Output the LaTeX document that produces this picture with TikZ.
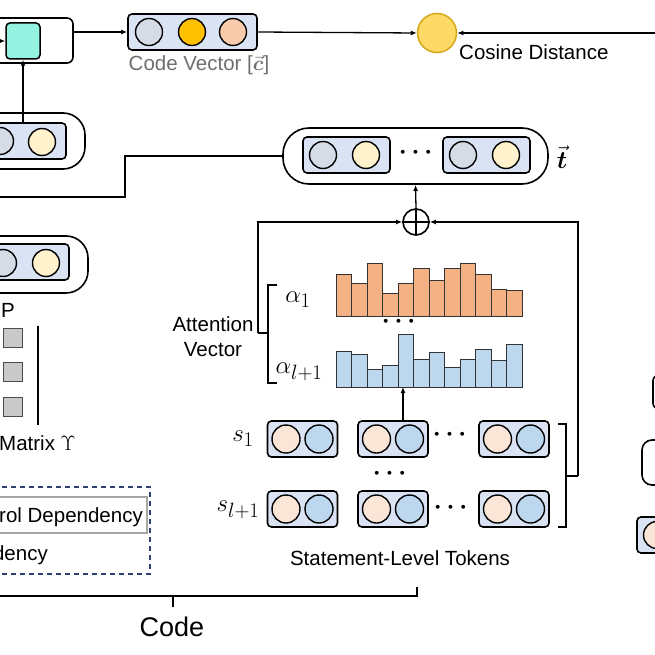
\documentclass[tikz,border=0pt]{standalone}
\usepackage{amsmath}
\usepackage{fontspec}
\setmainfont{Liberation Sans}
\usetikzlibrary{arrows.meta}

\definecolor{boxblue}{HTML}{DAE3F3}
\definecolor{graydot}{HTML}{D6DCE5}
\definecolor{golddot}{HTML}{FFC000}
\definecolor{peachdot}{HTML}{F8CBAD}
\definecolor{yellowdot}{HTML}{FFF2CC}
\definecolor{tokpeach}{HTML}{FBE5D6}
\definecolor{tokblue}{HTML}{BDD7EE}
\definecolor{barorange}{HTML}{F4B183}
\definecolor{barblue}{HTML}{BDD7EE}
\definecolor{tealc}{HTML}{93F2E0}
\definecolor{cosfill}{HTML}{FFD966}
\definecolor{cosdraw}{HTML}{D6A718}
\definecolor{codegray}{HTML}{6E6E6E}
\definecolor{dashblue}{HTML}{2F3F6F}
\definecolor{boxgray}{HTML}{A6A6A6}
\definecolor{sqgray}{HTML}{C9C9C9}

\tikzset{
  conn/.style={line width=1.3pt, -{Latex[length=6pt,width=5pt]}},
  wire/.style={line width=1.3pt},
  vecbox/.style={draw, line width=1.6pt, rounded corners=4pt, fill=boxblue,
    minimum height=36pt, inner sep=0pt},
  pillbox/.style={draw, line width=1.6pt, rounded corners=22pt, fill=white, inner sep=0pt},
  ball/.style={circle, draw, line width=1.4pt, minimum size=27pt, inner sep=0pt},
  bar/.style={draw=black!80, line width=0.9pt},
  lbl/.style={font=\fontsize{20.5}{25}\selectfont, inner sep=0pt},
  mlbl/.style={font=\fontsize{24.88}{30}\selectfont, inner sep=0pt},
  dots/.style={font=\fontsize{24.88}{30}\selectfont\boldmath, inner sep=0pt},
}

\begin{document}
\begin{tikzpicture}[x=1pt, y=-1pt]
  \useasboundingbox (0,0) rectangle (655,655);

  \node[draw, line width=1.6pt, rounded corners=6pt, fill=white,
    minimum width=110pt, minimum height=45pt] (enc) at (18,40.5) {};
  \node[draw, line width=1.5pt, rounded corners=4pt, fill=tealc,
    minimum width=34pt, minimum height=36pt] (sq) at (23,41) {};
  \coordinate (inl) at (-2,41);
  \draw[conn] (inl) -- (sq.west);

  \node[vecbox, minimum width=129pt] (cv) at (192.5,32) {};
  \node[ball, fill=graydot] (cv1) at (149,32) {};
  \node[ball, fill=golddot] (cv2) at (192,32) {};
  \node[ball, fill=peachdot] (cv3) at (233,32) {};
  \node[lbl, text=codegray] (cvl) at (199,65) {Code Vector [$\vec{\boldsymbol{c}}$]};
  \draw[conn] (enc.east |- cv) -- (cv.west);

  \node[circle, draw=cosdraw, fill=cosfill, line width=1.5pt,
    minimum size=39pt, inner sep=0pt] (cos) at (437,33) {};
  \coordinate (cosin) at (660,33);
  \draw[conn] (cv.east) -- (cos.west);
  \draw[conn] (cosin) -- (cos.east);
  \node[lbl, anchor=west] (cosl) at (459,52) {Cosine Distance};

  \node[pillbox, minimum width=135pt, minimum height=56pt] (p2) at (17.5,141) {};
  \node[vecbox, minimum width=100pt] (v2) at (16,141) {};
  \node[ball, fill=graydot] (v2a) at (0,141) {};
  \node[ball, fill=yellowdot] (v2b) at (42,142) {};
  \draw[conn] (sq.south |- v2.north) -- (sq.south);

  \node[pillbox, minimum width=138pt, minimum height=57pt] (p3) at (19,264.5) {};
  \node[vecbox, minimum width=103pt] (v3) at (17.5,262) {};
  \node[ball, fill=graydot] (v3a) at (3,263) {};
  \node[ball, fill=yellowdot] (v3b) at (46,263) {};

  \node[pillbox, rounded corners=26pt, minimum width=265pt, minimum height=56pt] (tv) at (415.5,156) {};
  \node[vecbox, minimum width=87pt] (tva) at (346.5,155) {};
  \node[vecbox, minimum width=87pt] (tvb) at (486.5,155) {};
  \node[ball, fill=graydot] (tva1) at (323,155) {};
  \node[ball, fill=yellowdot] (tva2) at (366,155) {};
  \node[ball, fill=graydot] (tvb1) at (463,155) {};
  \node[ball, fill=yellowdot] (tvb2) at (506,155) {};
  \node[dots] (tvd) at (418,153) {$\cdots$};
  \node[mlbl] (tvl) at (562,157) {$\vec{\boldsymbol{t}}$};
  \coordinate (bend) at (125,197);
  \coordinate (lout) at (-5,197);
  \draw[wire] (tv.west) -| (bend) -- (lout);

  \node[circle, draw, line width=1.6pt, minimum size=26pt, inner sep=0pt] (op) at (416,222) {};
  \draw[line width=1.6pt] (op.north) -- (op.south) (op.west) -- (op.east);
  \draw[conn] (op.north) -- (tv.south);

  \coordinate (ab) at (258,333);
  \draw[wire] (277,285) -- (268,285) -- (268,383) -- (277,383) (268,333) -- (ab);
  \draw[conn] (ab) |- (op.west);
  \coordinate (tb) at (578,476);
  \draw[wire] (558,424) -- (566,424) -- (566,527) -- (558,527) (566,476) -- (tb);
  \draw[conn] (tb) |- (op.east);

  \foreach \h [count=\i] in {42,33,53,23,33,48,36,48,53,42,27,26}
    \filldraw[bar, fill=barorange] ({336+(\i-1)*15.5},316) rectangle ++(15.5,-\h);
  \foreach \h [count=\i] in {36,33,18,22,53,28,35,20,28,38,27,43}
    \filldraw[bar, fill=barblue] ({336+(\i-1)*15.5},387) rectangle ++(15.5,-\h);
  \node[mlbl] (a1) at (298,300) {$\alpha_1$};
  \node[mlbl] (al) at (299,372) {$\alpha_{l+1}$};
  \node[dots] (ad) at (401,322) {$\cdots$};
  \node[lbl, align=center] (att) at (213,337) {Attention\\Vector};

  \foreach \y [count=\r] in {439,509} {
    \foreach \x [count=\c] in {302.5,393,514} {
      \node[vecbox, minimum width=70pt] (tok\r\c) at (\x,\y) {};
      \node[ball, minimum size=28pt, fill=tokpeach] (tok\r\c a) at (\x-16.5,\y) {};
      \node[ball, minimum size=28pt, fill=tokblue] (tok\r\c b) at (\x+16.5,\y) {};
    }
  }
  \coordinate (bb) at (403,387);
  \draw[conn] (tok12.north -| bb) -- (bb);
  \node[mlbl] (s1) at (243,439) {$s_1$};
  \node[mlbl] (sl) at (238,510) {$s_{l+1}$};
  \node[dots] (d1) at (452,435) {$\cdots$};
  \node[dots] (d2) at (453,508) {$\cdots$};
  \node[dots] (d3) at (392,474) {$\cdots$};
  \node[lbl] (stl) at (400,558) {Statement-Level Tokens};

  \draw[wire] (-5,596) -- (417,596) -- (417,587) (173,596) -- (173,607);
  \node[font=\fontsize{27}{32}\selectfont, inner sep=0pt] (code) at (172,627) {Code};

  \draw[dashed, dash pattern=on 5pt off 4pt, draw=dashblue, line width=1.3pt]
    (-10,487) rectangle (150,574);
  \draw[draw=boxgray, line width=2pt] (-10,497) rectangle (147,533);
  \node[lbl, anchor=east] (cd) at (143,517) {rol Dependency};
  \node[lbl, anchor=east] (dd) at (48,555) {dency};

  \foreach \y in {338,371.5,406.5}
    \filldraw[fill=sqgray, draw=black!70, line width=1pt] (3,\y-9.5) rectangle ++(19,19);
  \draw[wire] (38,326) -- (38,425);
  \node[lbl] (pl) at (8,310) {P};
  \node[lbl, anchor=west] (mx) at (-1,443) {Matrix $\Upsilon$};

  \draw[line width=1.6pt, rounded corners=6pt, fill=white] (653,375) rectangle (680,409);
  \draw[line width=1.6pt, rounded corners=10pt, fill=white] (642,440) rectangle (690,485);
  \draw[line width=1.6pt, rounded corners=4pt, fill=boxblue] (637,517) rectangle (700,553);
  \node[ball, fill=tokpeach] (rp) at (657,535) {};
\end{tikzpicture}
\end{document}
